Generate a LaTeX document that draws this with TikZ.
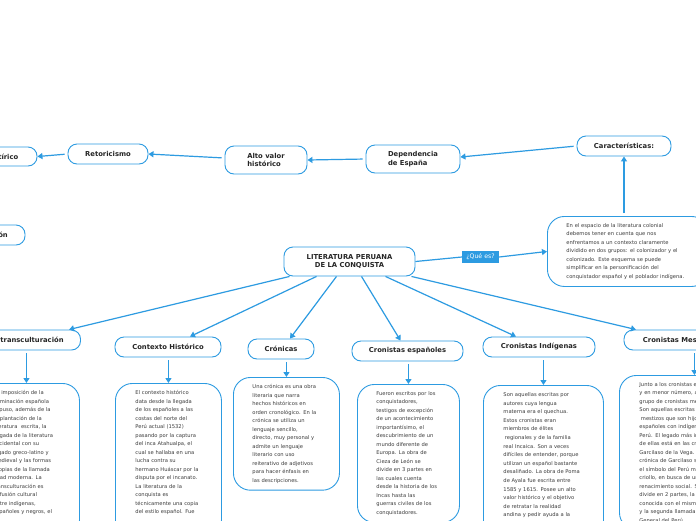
\documentclass[tikz,border=0pt]{standalone}
\usepackage{fontspec}
\setmainfont{DejaVu Sans}
\usepackage{tikz}
\usetikzlibrary{arrows.meta}
\definecolor{mapblue}{RGB}{45,155,225}
\definecolor{txtgray}{RGB}{60,60,60}

\begin{document}
\begin{tikzpicture}[x=1pt,y=-1pt,
	topicnode/.style={rectangle, rounded corners=9pt, draw=mapblue, line width=0.9pt, fill=white, inner sep=0pt, font=\fontsize{6.8}{8.4}\selectfont\bfseries, text=black!85},
	textnode/.style={rectangle, rounded corners=17pt, draw=mapblue, line width=0.9pt, fill=white, anchor=north west, inner xsep=20pt, inner ysep=7pt, align=left, font=\fontsize{5.2}{8.5}\selectfont, text=txtgray},
	tagnode/.style={rectangle, fill=mapblue, inner sep=0pt, minimum width=37pt, minimum height=12pt, font=\fontsize{6.2}{7}\selectfont, text=white},
	link/.style={mapblue, line width=1.2pt, -{Triangle[length=5pt,width=6pt]}},
	]
	\useasboundingbox (0,0) rectangle (696,520);
	\fill[white] (0,0) rectangle (696,520);
	\clip (0,0) rectangle (696,520);
	%Nodes
	\node[topicnode, minimum width=131pt, minimum height=29pt, align=center] (lit) at (349.5,261.5) {LITERATURA PERUANA\\DE LA CONQUISTA};
	\node[tagnode] (que) at (480.5,257) {¿Qué es?};
	\node[textnode, text width=123pt, inner xsep=19pt] (desc) at (547,216) {En el espacio de la literatura colonial\\debemos tener en cuenta que nos\\enfrentamos a un contexto claramente\\dividido en dos grupos: el colonizador y el\\colonizado. Este esquema se puede\\simplificar en la personificación del\\conquistador español y el poblador indígena.};
	\node[topicnode, minimum width=94pt, minimum height=20pt] (car) at (624,146) {Características:};
	\node[topicnode, minimum width=94pt, minimum height=28pt, align=left] (dep) at (413,159) {Dependencia\\de España};
	\node[topicnode, minimum width=82pt, minimum height=28pt, align=left] (alto) at (266,160) {Alto valor\\histórico};
	\node[topicnode, minimum width=80pt, minimum height=20pt] (ret) at (108,154) {Retoricismo};
	\node[topicnode, minimum width=67pt, minimum height=19pt] (sat) at (3.5,156.5) {Satírico};
	\node[topicnode, minimum width=70pt, minimum height=20pt] (imit) at (-10,235) {Imitación};

	\node[topicnode, minimum width=97pt, minimum height=20pt] (trans) at (32,340) {transculturación};
	\node[topicnode, minimum width=106pt, minimum height=20pt] (ctx) at (168,347) {Contexto Histórico};
	\node[topicnode, minimum width=66pt, minimum height=20pt] (cron) at (281,349) {Crónicas};
	\node[topicnode, minimum width=111pt, minimum height=20pt] (esp) at (407.5,351) {Cronistas españoles};
	\node[topicnode, minimum width=112pt, minimum height=20pt] (ind) at (539,347) {Cronistas Indígenas};
	\node[topicnode, minimum width=110pt, minimum height=20pt] (mes) at (679,340) {Cronistas Mestizos};

	\node[textnode, text width=66pt] (transT) at (-27,383) {La imposición de la\\dominación española\\supuso, además de la\\implantación de la\\literatura\ \ escrita, la\\llegada de la literatura\\occidental con su\\legado greco-latino y\\medieval y las formas\\propias de la llamada\\edad moderna. La\\transculturación es\\la fusión cultural\\entre indígenas,\\españoles y negros, el\\~\\~};
	\node[textnode, text width=66pt] (ctxT) at (115,383) {El contexto histórico\\data desde la llegada\\de los españoles a las\\costas del norte del\\Perú actual (1532)\\pasando por la captura\\del inca Atahualpa, el\\cual se hallaba en una\\lucha contra su\\hermano Huáscar por la\\disputa por el incanato.\\La literatura de la\\conquista es\\técnicamente una copia\\del estilo español. Fue\\~\\~};
	\node[textnode, text width=68pt, inner xsep=19pt] (cronT) at (233,377) {Una crónica es una obra\\literaria que narra\\hechos históricos en\\orden cronológico. En la\\crónica se utiliza un\\lenguaje sencillo,\\directo, muy personal y\\admite un lenguaje\\literario con uso\\reiterativo de adjetivos\\para hacer énfasis en\\las descripciones.};
	\node[textnode, text width=64pt, inner xsep=19pt] (espT) at (357,384) {Fueron escritos por los\\conquistadores,\\testigos de excepción\\de un acontecimiento\\importantísimo, el\\descubrimiento de un\\mundo diferente de\\Europa. La obra de\\Cieza de León se\\divide en 3 partes en\\las cuales cuenta\\desde la historia de los\\Incas hasta las\\guerras civiles de los\\conquistadores.};
	\node[textnode, text width=80pt, font=\fontsize{5.2}{8.6}\selectfont] (indT) at (483,385) {Son aquellas escritas por\\autores cuya lengua\\materna era el quechua.\\Estos cronistas eran\\miembros de élites\\\hspace{1.5pt}regionales y de la familia\\real Incaica. Son a veces\\difíciles de entender, porque\\utilizan un español bastante\\desaliñado. La obra de Poma\\de Ayala fue escrita entre\\1585 y 1615. Posee un alto\\valor histórico y el objetivo\\de retratar la realidad\\andina y pedir ayuda a la\\~\\~};
	\node[textnode, text width=110pt] (mesT) at (619,375) {Junto a los cronistas españoles\\y en menor número, aparece un\\grupo de cronistas mestizos.\\Son aquellas escritas por los\\\hspace{1.5pt}mestizos que son hijos de\\españoles con indígenas del\\Perú. El legado más importante\\de ellas está en las crónicas de\\Garcilaso de la Vega. La\\crónica de Garcilaso se vuelve\\el símbolo del Perú mestizo y\\criollo, en busca de un\\renacimiento social. Se\\divide en 2 partes, la primera\\conocida con el mismo nombre\\y la segunda llamada Historia\\General del Perú.};

	%Connectors
	\draw[mapblue, line width=1.2pt] (lit.east) -- (que.west);
	\draw[link] (que.east) -- (desc.west);
	\draw[link, shorten <=3pt] (car.south |- desc.north) -- (car.south);
	\draw[link, shorten <=3pt] (car.west) -- ([yshift=2pt]dep.east);
	\draw[link, shorten <=3pt] (dep.west) -- (alto.east);
	\draw[link, shorten <=3pt] ([yshift=2pt]alto.west) -- (ret.east);
	\draw[link, shorten <=3pt] (ret.west) -- (sat.east);

	\draw[link] ([xshift=-60pt]lit.south) -- ([xshift=37pt]trans.north);
	\draw[link] ([xshift=-33pt]lit.south) -- ([xshift=22pt]ctx.north);
	\draw[link] ([xshift=-13pt]lit.south) -- ([xshift=9pt]cron.north);
	\draw[link] ([xshift=12pt]lit.south) -- ([xshift=-7pt]esp.north);
	\draw[link] ([xshift=36pt]lit.south) -- ([xshift=-23pt]ind.north);
	\draw[link] ([xshift=62pt]lit.south) -- ([xshift=-43pt]mes.north);

	\draw[link, shorten <=3pt] (transT.north |- trans.south) -- (transT.north);
	\draw[link, shorten <=3pt] (ctxT.north |- ctx.south) -- (ctxT.north);
	\draw[link, shorten <=3pt] (cronT.north |- cron.south) -- (cronT.north);
	\draw[link, shorten <=3pt] (espT.north |- esp.south) -- (espT.north);
	\draw[link, shorten <=3pt] (indT.north |- ind.south) -- (indT.north);
	\draw[link, shorten <=3pt] (mesT.north |- mes.south) -- (mesT.north);
\end{tikzpicture}
\end{document}
